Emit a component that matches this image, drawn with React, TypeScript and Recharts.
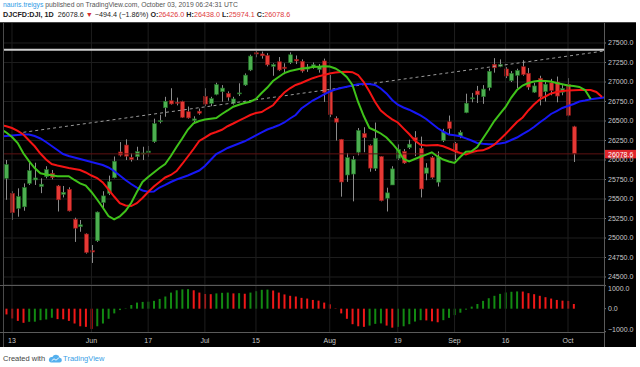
import {
  Bar,
  CartesianGrid,
  Cell,
  ComposedChart,
  Line,
  ReferenceLine,
  XAxis,
  YAxis,
} from "recharts";

const font = '"Liberation Sans", Arial, sans-serif';

// bar index 0 = May 13 2019, first candle is May 10 (index -1)
const firstCandle = -1;
const firstLinePoint = -2;

const opens = [
  25765, 25573, 25380, 25400, 25700, 25745, 25660, 25786, 25830, 25667,
  25560, 25624, 25240, 25145, 25051, 24838, 24965, 25454, 25573, 25773,
  26103, 26192, 26033, 26043, 26080, 26095, 26235, 26491, 26670, 26760,
  26740, 26748, 26619, 26505, 26625, 26815, 26727, 26842, 26876, 26854,
  26727, 26850, 26962, 27154, 27375, 27360, 27340, 27200, 27260, 27190,
  27247, 27290, 27265, 27165, 27200, 27160, 27270, 26897, 26535, 26265,
  25808, 25820, 26100, 26340, 26185, 25893, 26043, 25510, 25680, 26022,
  26110, 26160, 26286, 26150, 25830, 26030, 25716, 26250, 26490, 26214,
  26300, 26607, 26790, 26885, 26812, 26927, 27227, 27200, 27167, 27017,
  27085, 27196, 27112, 26870, 27047, 26876, 26990, 27000, 26868, 26970, 26426,
];
const highs = [
  26000, 25600, 25637, 25700, 25980, 25965, 25765, 25920, 25872, 25680,
  25667, 25650, 25260, 25231, 25060, 24910, 25340, 25600, 25800, 26045,
  26230, 26265, 26085, 26170, 26170, 26180, 26530, 26580, 26810, 26920,
  26800, 26760, 26685, 26560, 26660, 26920, 26810, 26990, 26960, 26880,
  26810, 26983, 27110, 27350, 27398, 27390, 27370, 27240, 27320, 27240,
  27380, 27340, 27290, 27230, 27250, 27230, 27300, 27090, 26560, 26270,
  26090, 26050, 26410, 26420, 26200, 26480, 26050, 25645, 25920, 26200,
  26140, 26260, 26370, 26300, 25960, 26050, 26110, 26400, 26570, 26230,
  26380, 26850, 26860, 26950, 26960, 27170, 27306, 27290, 27190, 27140,
  27170, 27280, 27180, 26990, 27080, 27000, 27040, 27070, 26960, 27050, 26438,
];
const lows = [
  25490, 25231, 25273, 25350, 25680, 25680, 25575, 25765, 25752, 25340,
  25520, 25340, 24950, 25080, 24800, 24680, 24950, 25360, 25550, 25765,
  26045, 26000, 25980, 26000, 26000, 26040, 26220, 26470, 26555, 26710,
  26700, 26540, 26530, 26470, 26580, 26690, 26690, 26830, 26748, 26760,
  26710, 26820, 26950, 27140, 27317, 27300, 27200, 27080, 27140, 27100,
  27230, 27230, 27120, 27130, 27170, 27120, 26745, 26550, 26250, 25530,
  25720, 25470, 26060, 26100, 25850, 25860, 25470, 25340, 25680, 26000,
  25950, 26140, 26050, 25520, 25740, 25760, 25660, 26230, 26330, 26000,
  26280, 26600, 26740, 26730, 26720, 26890, 27120, 27190, 27050, 27000,
  26920, 27080, 26900, 26860, 26700, 26750, 26830, 26740, 26830, 26560, 25974.1,
];
const closes = [
  25942, 25325, 25532, 25648, 25863, 25770, 25690, 25877, 25777, 25490,
  25586, 25348, 25126, 25170, 24815, 24820, 25332, 25540, 25721, 25984,
  26063, 26049, 26005, 26107, 26090, 26115, 26466, 26504, 26753, 26719,
  26728, 26548, 26540, 26527, 26600, 26717, 26787, 26966, 26922, 26806,
  26783, 26860, 27088, 27332, 27359, 27336, 27220, 27223, 27154, 27172,
  27349, 27270, 27141, 27192, 27221, 27198, 26864, 26583, 26485, 25718,
  26030, 26007, 26378, 26287, 25896, 26280, 25479, 25579, 25886, 26136,
  25962, 26203, 26252, 25629, 25899, 25778, 26036, 26362, 26403, 26118,
  26355, 26728, 26797, 26836, 26909, 27137, 27182, 27225, 27077, 27111,
  27147, 27095, 26935, 26950, 26808, 26971, 26891, 26820, 26917, 26573, 26078.6,
];

// alligator lines, starting at index -2
const lips = [
  26397, 26353, 26295, 26218, 26086, 25987, 25897, 25830, 25814, 25804,
  25791, 25791, 25792, 25744, 25701, 25671, 25590, 25494, 25391, 25282,
  25240, 25276, 25346, 25449, 25590, 25718, 25782, 25840, 25897, 25949,
  26051, 26167, 26276, 26391, 26471, 26500, 26519, 26528, 26538, 26590,
  26635, 26683, 26708, 26731, 26747, 26782, 26859, 26929, 27013, 27064,
  27115, 27141, 27156, 27172, 27179, 27192, 27197, 27203, 27199, 27173,
  27128, 27064, 26962, 26744, 26564, 26410, 26378, 26340, 26288, 26212,
  26128, 26013, 25981, 26013, 26042, 26069, 26099, 26045, 26006, 25981,
  25962, 26039, 26106, 26112, 26167, 26276, 26385, 26500, 26590, 26680,
  26801, 26897, 26955, 26987, 27006, 27017, 27013, 27005, 26987, 26971,
  26955, 26949, 26936, 26897, 26782,
];
const teeth = [
  26449, 26432, 26410, 26372, 26327, 26250, 26176, 26083, 26006, 25949,
  25930, 25913, 25897, 25885, 25872, 25840, 25801, 25769, 25712, 25622,
  25532, 25446, 25417, 25410, 25446, 25513, 25590, 25660, 25718, 25776,
  25808, 25859, 25949, 26045, 26141, 26244, 26288, 26333, 26359, 26388,
  26433, 26468, 26506, 26541, 26577, 26603, 26615, 26660, 26701, 26788,
  26865, 26919, 26962, 26987, 27019, 27049, 27072, 27090, 27109, 27122,
  27128, 27131, 27126, 27090, 27000, 26878, 26744, 26635, 26573, 26522,
  26481, 26406, 26333, 26250, 26195, 26185, 26189, 26192, 26176, 26147,
  26115, 26090, 26071, 26099, 26118, 26124, 26154, 26196, 26263, 26333,
  26410, 26487, 26545, 26635, 26712, 26776, 26814, 26853, 26872, 26885,
  26890, 26895, 26897, 26897, 26897, 26872, 26808,
];
const jaw = [
  26301, 26308, 26315, 26321, 26328, 26327, 26308, 26276, 26231, 26180,
  26128, 26077, 26051, 26032, 26013, 25994, 25974, 25956, 25936, 25904,
  25859, 25801, 25744, 25692, 25645, 25609, 25594, 25596, 25647, 25680,
  25718, 25750, 25776, 25801, 25833, 25865, 25923, 26000, 26077, 26115,
  26154, 26183, 26212, 26240, 26278, 26315, 26353, 26391, 26417, 26445,
  26481, 26532, 26577, 26660, 26712, 26763, 26800, 26840, 26878, 26904,
  26923, 26940, 26955, 26971, 26974, 26974, 26962, 26917, 26853, 26769,
  26709, 26673, 26645, 26609, 26571, 26526, 26468, 26410, 26365, 26327,
  26317, 26304, 26278, 26250, 26218, 26208, 26201, 26205, 26212, 26224,
  26256, 26288, 26333, 26372, 26423, 26481, 26532, 26590, 26628, 26667,
  26692, 26718, 26750, 26763, 26778, 26788, 26797, 26808,
];

// awesome oscillator, one per candle
const aoValues = [
  -250, -425, -530, -615, -570, -565, -500, -470, -395, -455,
  -460, -530, -645, -765, -790, -880, -765, -645, -440, -205,
  -60, 15, 160, 265, 295, 305, 340, 425, 530, 700,
  800, 840, 850, 800, 700, 640, 630, 665, 690, 700,
  665, 675, 650, 700, 760, 820, 830, 790, 700, 620,
  560, 530, 470, 440, 380, 350, 265, 190, -15, -205,
  -440, -675, -765, -790, -735, -660, -640, -735, -825, -790,
  -765, -675, -560, -500, -510, -550, -590, -500, -400, -280,
  -175, -40, 90, 205, 340, 455, 560, 645, 705, 735,
  750, 745, 675, 630, 560, 500, 440, 380, 350, 340, 205,
];

const timeTicks = [0, 14, 24, 34, 43, 56, 68, 78, 87, 98];
const timeLabels = ["13", "Jun", "17", "Jul", "15", "Aug", "19", "Sep", "16", "Oct"];
const priceTicks = [
  24500, 24750, 25000, 25250, 25500, 25750, 26000, 26250, 26500, 26750, 27000,
  27250, 27500,
];
const aoTicks = [-1000, 0, 1000];

const lastPrice = 26078.6;
const resistance = 27415;
const trendFrom = { x: 2, y: 26355 };
const trendTo = { x: 104.34, y: 27397 };

const xDomain = [-1.586, 104.345];
const priceDomain = [24397.6, 27769.2];
const aoDomain = [-1014, 1030];

const rows: any[] = [];
for (let i = firstLinePoint; i <= firstLinePoint + jaw.length - 1; i++) {
  const c = i - firstCandle;
  const l = i - firstLinePoint;
  const has = c >= 0 && c < closes.length;
  rows.push({
    idx: i,
    open: has ? opens[c] : null,
    high: has ? highs[c] : null,
    low: has ? lows[c] : null,
    close: has ? closes[c] : null,
    ao: has ? aoValues[c] : null,
    aoUp: has ? c > 0 && aoValues[c] >= aoValues[c - 1] : false,
    lips: l < lips.length ? lips[l] : null,
    teeth: l < teeth.length ? teeth[l] : null,
    jaw: jaw[l],
  });
}

function Candle(props: any) {
  const { x, y, width, height, payload } = props;
  if (!payload || payload.open == null || !isFinite(y) || !isFinite(height)) return <g />;
  const { open, close, high, low } = payload;
  const top = Math.min(y, y + height);
  const h = Math.abs(height);
  const span = high - low || 1;
  const yOf = (v: number) => top + ((high - v) / span) * h;
  const up = close >= open;
  const bodyTop = yOf(Math.max(open, close));
  const bodyH = Math.max(1, yOf(Math.min(open, close)) - bodyTop);
  const cx = Math.round(x + width / 2) + 0.5;
  return (
    <g>
      <line x1={cx} x2={cx} y1={top} y2={top + h} stroke="#8c8c8c" strokeWidth={1} />
      <rect
        x={cx - 2}
        y={bodyTop}
        width={4}
        height={bodyH}
        fill={up ? "#4caf50" : "#e53935"}
        stroke={up ? "#1e6a22" : "#8a1616"}
        strokeWidth={0.6}
      />
    </g>
  );
}

function PriceTag(props: any) {
  const vb = props.viewBox;
  if (!vb) return null;
  const x = vb.x + vb.width;
  return (
    <g>
      <rect x={x} y={vb.y - 4} width={32} height={8.5} fill="#e0262b" />
      <text x={x + 4} y={vb.y + 0.3} dy="0.35em" fill="#fff" fontSize={7} fontFamily={font}>
        {lastPrice.toFixed(1)}
      </text>
    </g>
  );
}

// oscillator scale labels sit just inside the pane edges
function AoTick(props: any) {
  const { x, y, payload } = props;
  const v = payload.value;
  const shift = v > 0 ? 3 : v < 0 ? -2 : 0;
  const txt = v < 0 ? "\u2212" + Math.abs(v).toFixed(1) : Number(v).toFixed(1);
  return (
    <text x={x} y={y + shift} dy="0.355em" fill="#c8c8c8" fontSize={7} fontFamily={font}>
      {txt}
    </text>
  );
}

const axisTick = { fill: "#c8c8c8", fontSize: 7, fontFamily: font };
const red = { color: "#e0393b" };

export default function App() {
  return (
    <div style={{ position: "absolute", left: 0, top: 0, width: 640, height: 367, background: "#fff", fontFamily: font }}>
      <div style={{ position: "absolute", left: 3, top: 1.5, fontSize: 6.8, lineHeight: 1, color: "#555", whiteSpace: "nowrap" }}>
        <span style={{ color: "#2f9be6" }}>nauris.treigys</span> published on TradingView.com, October 03, 2019 06:24:31 UTC
      </div>
      <div style={{ position: "absolute", left: 3, top: 10.5, fontSize: 7.2, lineHeight: 1, color: "#222", whiteSpace: "nowrap" }}>
        <b>DJCFD:DJI, 1D</b>&nbsp; 26078.6 <span style={{ color: "#d32f2f" }}>▼</span> −494.4 (−1.86%){" "}
        <b>O:</b><span style={red}>26426.0</span> <b>H:</b><span style={red}>26438.0</span>{" "}
        <b>L:</b><span style={red}>25974.1</span> <b>C:</b><span style={red}>26078.6</span>
      </div>

      <div style={{ position: "absolute", left: 0, top: 22, width: 636, height: 325, background: "#000" }}>
        <div style={{ position: "absolute", left: 0, top: 0 }}>
          <ComposedChart width={636} height={263} data={rows} margin={{ top: 0, right: 0, bottom: 0, left: 3 }}>
            <CartesianGrid vertical={false} stroke="#1e1e1e" />
            <XAxis dataKey="idx" type="number" domain={xDomain} allowDataOverflow hide />
            <YAxis
              orientation="right"
              width={32}
              domain={priceDomain}
              allowDataOverflow
              ticks={priceTicks}
              interval={0}
              tick={axisTick}
              tickFormatter={(v) => Number(v).toFixed(1)}
              tickSize={2}
              tickMargin={2}
              tickLine={{ stroke: "#777" }}
              axisLine={false}
            />
            {timeTicks.map((t) => (
              <ReferenceLine key={t} x={t} stroke="#1e1e1e" />
            ))}
            <ReferenceLine y={lastPrice} stroke="#5e1212" label={<PriceTag />} />
            <ReferenceLine y={resistance} stroke="#cfcfcf" strokeWidth={2} />
            <ReferenceLine
              segment={[trendFrom, trendTo]}
              stroke="#9a9a9a"
              strokeDasharray="3 3"
              ifOverflow="visible"
            />
            <Bar
              dataKey={(d: any) => (d.low == null ? null : [d.low, d.high])}
              barSize={4}
              shape={<Candle />}
              isAnimationActive={false}
            />
            <Line type="linear" dataKey="jaw" stroke="#1717f5" strokeWidth={2} dot={false} isAnimationActive={false} />
            <Line type="linear" dataKey="teeth" stroke="#f41414" strokeWidth={2} dot={false} isAnimationActive={false} />
            <Line type="linear" dataKey="lips" stroke="#3fc21a" strokeWidth={2} dot={false} isAnimationActive={false} />
          </ComposedChart>
        </div>

        <div style={{ position: "absolute", left: 0, top: 263 }}>
          <ComposedChart width={636} height={62} data={rows} margin={{ top: 0, right: 0, bottom: 0, left: 3 }}>
            <XAxis
              dataKey="idx"
              type="number"
              domain={xDomain}
              allowDataOverflow
              ticks={timeTicks}
              interval={0}
              tickFormatter={(v) => timeLabels[timeTicks.indexOf(v)] ?? ""}
              height={15}
              tickSize={0}
              tickMargin={6}
              tick={axisTick}
              axisLine={false}
            />
            <YAxis
              orientation="right"
              width={32}
              domain={aoDomain}
              allowDataOverflow
              ticks={aoTicks}
              interval={0}
              tick={<AoTick />}
              tickSize={2}
              tickMargin={2}
              tickLine={{ stroke: "#777" }}
              axisLine={false}
            />
            {timeTicks.map((t) => (
              <ReferenceLine key={t} x={t} stroke="#1e1e1e" />
            ))}
            <Bar dataKey="ao" barSize={2} isAnimationActive={false}>
              {rows.map((r) => (
                <Cell key={r.idx} fill={r.aoUp ? "#128a12" : "#f01818"} />
              ))}
            </Bar>
          </ComposedChart>
        </div>

        <div style={{ position: "absolute", left: 3, top: 0, width: 1, height: 325, background: "#4a4a4a" }} />
        <div style={{ position: "absolute", left: 604, top: 0, width: 1, height: 325, background: "#5a5a5a" }} />
        <div style={{ position: "absolute", left: 0, top: 262.5, width: 604, height: 1, background: "#5a5a5a" }} />
        <div style={{ position: "absolute", left: 0, top: 309.5, width: 604, height: 1, background: "#5a5a5a" }} />
        <div style={{ position: "absolute", left: 0, top: 0, width: 636, height: 1, background: "#444" }} />
      </div>

      <div style={{ position: "absolute", left: 3, top: 354, fontSize: 7.5, lineHeight: 1, color: "#444", whiteSpace: "nowrap", display: "flex", alignItems: "center" }}>
        <span>Created with</span>
        <svg width={14} height={9} viewBox="0 0 14 9" style={{ margin: "0 1px 0 3px" }}>
          <path d="M3 8.5 H11.3 A2.4 2.4 0 0 0 11.6 3.7 A3.8 3.8 0 0 0 4.4 3.1 A2.7 2.7 0 0 0 3 8.5 Z" fill="#55b0ee" />
          <path d="M3.6 6.8 L6 4.8 L8 6.2 L10.8 3.9" stroke="#fff" strokeWidth={0.9} fill="none" />
        </svg>
        <span style={{ color: "#3a9fe6" }}>TradingView</span>
      </div>
    </div>
  );
}
